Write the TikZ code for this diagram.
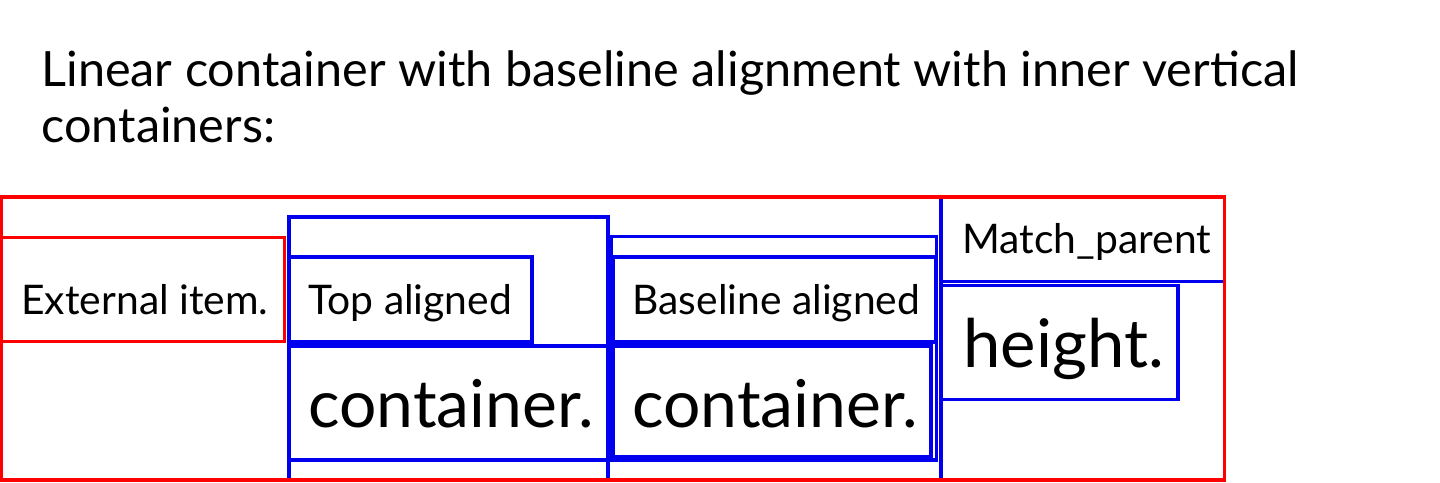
\documentclass[tikz,border=0pt]{standalone}
\usepackage{fontspec}
\setmainfont{Lato}
\definecolor{boxblue}{RGB}{0,0,238}
\begin{document}
\begin{tikzpicture}
    [   x=0.5pt,y=-0.5pt,
        redbox/.style={draw=red,line width=1.75pt},
        bluebox/.style={draw=boxblue,line width=1.75pt},
        lbl/.style={anchor=base west,inner sep=0pt,font=\fontsize{#1}{#1}\selectfont},
    ]
    \useasboundingbox (0,0) rectangle (1440,482);
    \node[lbl=24.3,align=left,font=\fontsize{24.3}{28}\selectfont] (title) at (41,142)
        {Linear container with baseline alignment with inner vertical\\containers:};
    % external item
    \draw[redbox] (1.5,237.5) rectangle (284.5,341.5);
    \node[lbl=20.4] (ext) at (21,314) {External item.};
    % first vertical container
    \draw[bluebox] (289,217) rectangle (608,480);
    \draw[bluebox] (289,257) rectangle (532,342);
    \node[lbl=20.4] (top) at (308,314) {Top aligned};
    % second vertical container
    \draw[bluebox] (611,236.5) rectangle (936.5,460);
    \draw[bluebox] (613,257) rectangle (936,342);
    \node[lbl=20.4] (base) at (632,314) {Baseline aligned};
    \foreach \x/\w [count=\i] in {289/608,613/931}
    {   \draw[bluebox] (\x,346) rectangle (\w,{460-3*(\i-1)});
        \node[lbl=33] (cont-\i) at (\x+19,427) {container.};
    }
    % match_parent container
    \draw[bluebox] (941,197) rectangle (1224.5,480);
    \draw[bluebox] (941,197) rectangle (1224.5,281.5);
    \node[lbl=20.4] (match) at (962,253) {Match\_parent};
    \draw[bluebox] (941,285.5) rectangle (1178,399.5);
    \node[lbl=33.5] (height) at (963,367) {height.};
    % linear container
    \draw[redbox] (1.5,197) rectangle (1224.5,480);
\end{tikzpicture}
\end{document}
